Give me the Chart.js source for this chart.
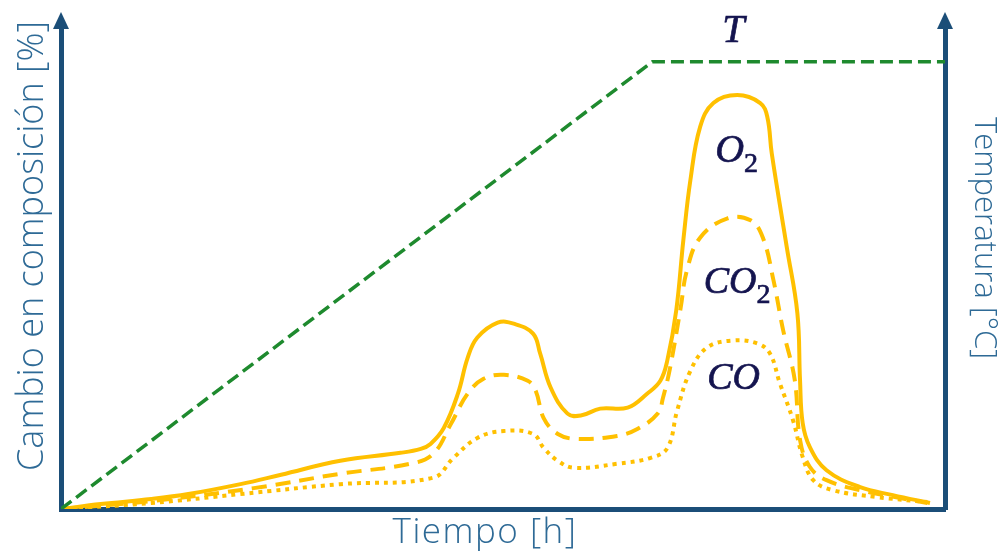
<!DOCTYPE html>
<html>
<head>
<meta charset="utf-8">
<script src="https://cdn.jsdelivr.net/npm/chart.js@4/dist/chart.umd.min.js"></script>
<style>
  html, body { margin: 0; padding: 0; background: #ffffff; }
  canvas { display: block; }
</style>
</head>
<body>
<canvas id="chart" width="1008" height="558"></canvas>
<script>
// Gas composition change over time (arbitrary units) and the temperature ramp.
const o2Time    = [0, 4.5, 10.2, 14.4, 20.3, 24.9, 31.6, 38.4, 40.7, 41.8, 43.3, 44.9, 46.0, 47.1, 49.4, 51.2, 53.4, 54.2, 55.4, 57.3, 58.8, 61.0, 64.1, 66.3, 67.8, 68.6, 69.6, 70.4, 71.2, 72.3, 73.8, 76.5, 79.1, 79.9, 80.4, 82.1, 83.3, 83.6, 83.9, 84.7, 86.6, 90.4, 94.1, 98.3];
const o2Values  = [0, 1.0, 2.0, 3.0, 5.0, 6.9, 9.7, 11.3, 12.1, 13.1, 16.3, 23.2, 30.4, 34.5, 37.5, 37.3, 35.3, 31.3, 24.4, 19.2, 18.8, 20.2, 20.4, 23.2, 25.8, 30.0, 40.0, 54.1, 66.2, 76.9, 81.7, 83.3, 81.7, 78.9, 71.6, 52.7, 39.4, 26.0, 17.3, 12.5, 7.8, 4.4, 2.8, 1.2];

const co2Time   = [0, 10.2, 21.8, 31.6, 39.5, 42.1, 44.1, 46.0, 47.8, 50.1, 52.8, 53.7, 54.6, 56.2, 58.4, 62.9, 65.2, 67.5, 68.1, 68.9, 70.1, 70.8, 72.3, 75.4, 78.0, 79.4, 80.6, 81.7, 83.0, 83.6, 84.7, 86.6, 90.4, 98.0];
const co2Values = [0, 1.6, 4.2, 7.1, 9.1, 11.1, 17.1, 23.2, 26.2, 27.0, 25.8, 23.8, 18.3, 15.1, 14.1, 14.7, 16.1, 19.2, 22.4, 28.4, 40.5, 48.0, 54.6, 58.5, 58.1, 54.6, 46.0, 35.9, 26.0, 13.9, 8.5, 5.8, 3.8, 1.2];

const coTime    = [0, 10.2, 20.3, 31.6, 42.1, 44.4, 47.1, 50.1, 53.4, 54.6, 56.2, 58.0, 62.9, 66.7, 68.6, 69.7, 71.2, 73.1, 76.0, 78.8, 80.2, 81.3, 82.8, 83.9, 85.1, 87.3, 92.3, 98.0];
const coValues  = [0, 1.2, 3.0, 5.0, 6.3, 10.3, 14.3, 15.7, 15.1, 12.3, 9.7, 8.3, 9.1, 10.3, 12.3, 19.8, 27.8, 32.5, 33.9, 33.3, 31.3, 25.4, 17.9, 10.5, 5.8, 3.8, 2.4, 1.4];

const tempTime   = [0, 66.9, 100];
const tempValues = [0, 90, 90];

const axisMax = 97;

const zip = (xs, ys) => xs.map((x, i) => ({ x: x, y: ys[i] }));

const AXIS_COLOR = '#1b4e78';
const TITLE_COLOR = '#2e6a96';
const GAS_COLOR = '#ffc000';
const TEMP_COLOR = '#1e8a2e';
const MATH_COLOR = '#14144f';

// Arrowheads on the two vertical axes
const axisArrows = {
  id: 'axisArrows',
  afterDraw(chart) {
    const { ctx, chartArea } = chart;
    ctx.save();
    ctx.fillStyle = AXIS_COLOR;
    [chartArea.left, chartArea.right].forEach(x => {
      ctx.beginPath();
      ctx.moveTo(x, chartArea.top - 15);
      ctx.lineTo(x - 8, chartArea.top + 2);
      ctx.lineTo(x + 8, chartArea.top + 2);
      ctx.closePath();
      ctx.fill();
    });
    ctx.restore();
  }
};

// Axis titles
const axisTitles = {
  id: 'axisTitles',
  afterDraw(chart) {
    const { ctx } = chart;
    ctx.save();
    ctx.fillStyle = TITLE_COLOR;
    ctx.textAlign = 'center';
    ctx.textBaseline = 'alphabetic';

    ctx.font = '300 35px "Open Sans"';
    ctx.letterSpacing = '1.5px';
    ctx.fillText('Tiempo [h]', 485, 543);
    ctx.letterSpacing = '0px';

    ctx.save();
    ctx.translate(43, 246);
    ctx.rotate(-Math.PI / 2);
    ctx.font = '300 36px "Open Sans"';
    ctx.fillText('Cambio en composición [%]', 0, 0);
    ctx.restore();

    ctx.save();
    ctx.translate(975, 238);
    ctx.rotate(Math.PI / 2);
    ctx.font = '300 31px "Open Sans"';
    ctx.fillText('Temperatura [°C]', 0, 0);
    ctx.restore();

    ctx.restore();
  }
};

// Italic math-style names next to each curve
const curveNames = {
  id: 'curveNames',
  afterDatasetsDraw(chart) {
    const { ctx, scales } = chart;
    const names = [
      { main: 'T',  sub: '',  x: 74.8, y: 94.0, size: 40 },
      { main: 'O',  sub: '2', x: 74.0, y: 69.8, size: 40 },
      { main: 'CO', sub: '2', x: 72.7, y: 43.5, size: 38 },
      { main: 'CO', sub: '',  x: 73.1, y: 24.2, size: 38 }
    ];
    ctx.save();
    ctx.fillStyle = MATH_COLOR;
    ctx.strokeStyle = MATH_COLOR;
    ctx.lineWidth = 0.7;
    ctx.textAlign = 'left';
    ctx.textBaseline = 'alphabetic';
    names.forEach(n => {
      const px = scales.x.getPixelForValue(n.x);
      const py = scales.y.getPixelForValue(n.y);
      ctx.font = 'italic ' + n.size + 'px "Liberation Serif"';
      ctx.fillText(n.main, px, py);
      ctx.strokeText(n.main, px, py);
      if (n.sub) {
        const w = ctx.measureText(n.main).width;
        ctx.font = '28px "Liberation Serif"';
        ctx.fillText(n.sub, px + w, py + 10);
        ctx.strokeText(n.sub, px + w, py + 10);
      }
    });
    ctx.restore();
  }
};

const hiddenScale = (position, extra) => Object.assign({
  type: 'linear',
  position: position,
  min: 0,
  max: axisMax,
  grid: { display: false, drawTicks: false },
  ticks: { display: false },
  border: { display: true, color: AXIS_COLOR, width: 5 },
  title: { display: false }
}, extra || {});

const gasLine = (label, values, times, dash) => ({
  label: label,
  data: zip(times, values),
  yAxisID: 'y',
  borderColor: GAS_COLOR,
  borderWidth: 4,
  borderDash: dash,
  borderCapStyle: 'butt',
  tension: 0.4,
  pointRadius: 0,
  fill: false
});

new Chart(document.getElementById('chart'), {
  type: 'line',
  data: {
    datasets: [
      {
        label: 'T',
        data: zip(tempTime, tempValues),
        yAxisID: 'yT',
        borderColor: TEMP_COLOR,
        borderWidth: 3.5,
        borderDash: [13, 6],
        tension: 0,
        pointRadius: 0,
        fill: false
      },
      gasLine('CO', coValues, coTime, [4, 5]),
      gasLine('CO2', co2Values, co2Time, [15, 9]),
      gasLine('O2', o2Values, o2Time, [])
    ]
  },
  options: {
    responsive: false,
    animation: false,
    layout: { padding: { left: 61, right: 63, top: 27, bottom: 49 } },
    plugins: {
      legend: { display: false },
      tooltip: { enabled: false }
    },
    scales: {
      x: Object.assign(hiddenScale('bottom'), { max: 100 }),
      y: hiddenScale('left'),
      yT: hiddenScale('right')
    }
  },
  plugins: [axisArrows, axisTitles, curveNames]
});
</script>
</body>
</html>
